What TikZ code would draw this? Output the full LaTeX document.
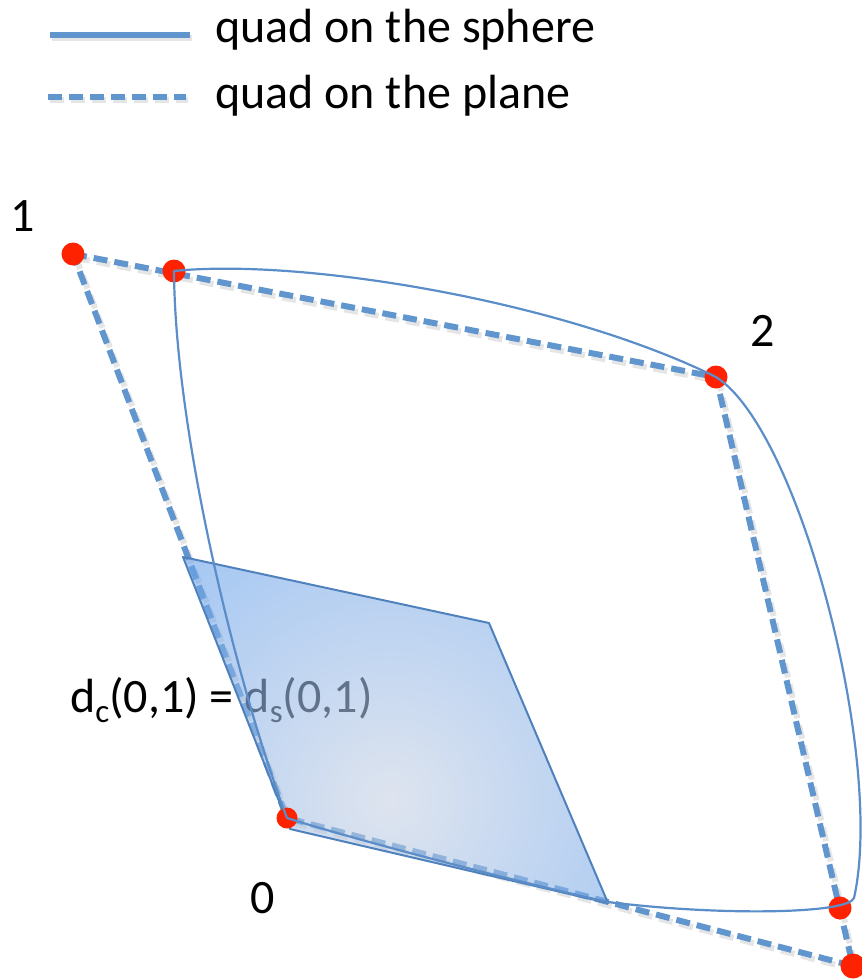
\documentclass[tikz,border=0pt]{standalone}
\usepackage{fontspec}
\setmainfont{Carlito}
\definecolor{qblue}{RGB}{96,150,205}
\definecolor{sblue}{RGB}{91,141,200}
\definecolor{eblue}{RGB}{79,129,189}
\definecolor{qred}{RGB}{255,34,0}
\definecolor{pout}{RGB}{100,160,235}
\definecolor{pin}{RGB}{200,210,228}
\newcommand{\mysub}[1]{\raisebox{-0.22em}{\fontsize{33}{33}\selectfont #1}}
\begin{document}
\begin{tikzpicture}[x=1pt,y=-1pt,
  dashq/.style={draw=qblue, line width=6pt, dash pattern=on 14pt off 7pt},
  dshad/.style={draw=black, opacity=0.1, line width=6pt, dash pattern=on 14pt off 7pt},
  sshad/.style={draw=black, opacity=0.1, line width=6pt},
  sphq/.style={draw=sblue, line width=2.2pt, line cap=round, line join=round},
  dot/.style={circle, fill=qred, minimum size=23pt, inner sep=0pt},
  lbl/.style={font=\fontsize{48}{58}\selectfont, inner sep=0pt}]
\useasboundingbox (0,0) rectangle (862,980);

% legend
\coordinate (l1a) at (50,35);
\coordinate (l1b) at (190,35);
\coordinate (l2a) at (48,97);
\coordinate (l2b) at (186,97);
\draw[sshad, transform canvas={shift={(2pt,-3pt)}}] (l1a) -- (l1b);
\draw[draw=qblue, line width=6pt] (l1a) -- (l1b);
\draw[dshad, transform canvas={shift={(2pt,-3pt)}}] (l2a) -- (l2b);
\draw[dashq] (l2a) -- (l2b);
\node[lbl, anchor=base west] (leg1) at (215,42) {quad on the sphere};
\node[lbl, anchor=base west] (leg2) at (215,108) {quad on the plane};

% points
\coordinate (P1) at (73,254);
\coordinate (Pa) at (174,271);
\coordinate (P2) at (716,377);
\coordinate (Pb) at (840,908);
\coordinate (Pbh) at (854,898);
\coordinate (P3) at (853,966);
\coordinate (P0) at (287,818);
\coordinate (PC) at (608,902);

% dashed quad (plane) with shadow
\draw[dshad, transform canvas={shift={(3pt,-4pt)}}] (P1) -- (P2) -- (P3) -- (P0) -- cycle;
\draw[dashq] (P1) -- (P2) -- (P3) -- (P0) -- cycle;

% formula (below the plane)
\node[lbl, anchor=base west] (form) at (70,712) {d\mysub{c}(0,1) = d\mysub{s}(0,1)};

% plane
\coordinate (A) at (183,557);
\coordinate (B) at (489,623);
\coordinate (C) at (608,903);
\coordinate (D) at (290,829);
\coordinate (G) at (390,800);
\begin{scope}[transparency group, opacity=0.6]
\clip (A) -- (B) -- (C) -- (D) -- cycle;
\shade[inner color=pin, outer color=pout] (G) circle (330pt);
\end{scope}
\draw[draw=eblue, line width=2pt, line join=round] (A) -- (B) -- (C) -- (D) -- cycle;

% dots
\node[dot] (n1) at (P1) {};
\node[dot] (na) at (Pa) {};
\node[dot] (n2) at (P2) {};
\node[dot, minimum size=21pt] (n0) at (P0) {};
\node[dot] (nb) at (Pb) {};
\node[dot, minimum size=25pt] (n3) at (P3) {};

% sphere quad
\draw[sphq] (Pa) .. controls (300,258) and (560,300) .. (P2)
  .. controls (800,430) and (885,760) .. (Pbh)
  .. controls (848,914) and (720,916) .. (PC)
  .. controls (500,878) and (350,838) .. (P0)
  .. controls (235,680) and (175,430) .. (Pa);

% labels
\node[lbl] (t1) at (23,216) {1};
\node[lbl] (t2) at (763,331) {2};
\node[lbl] (t0) at (263,898) {0};
\end{tikzpicture}
\end{document}
